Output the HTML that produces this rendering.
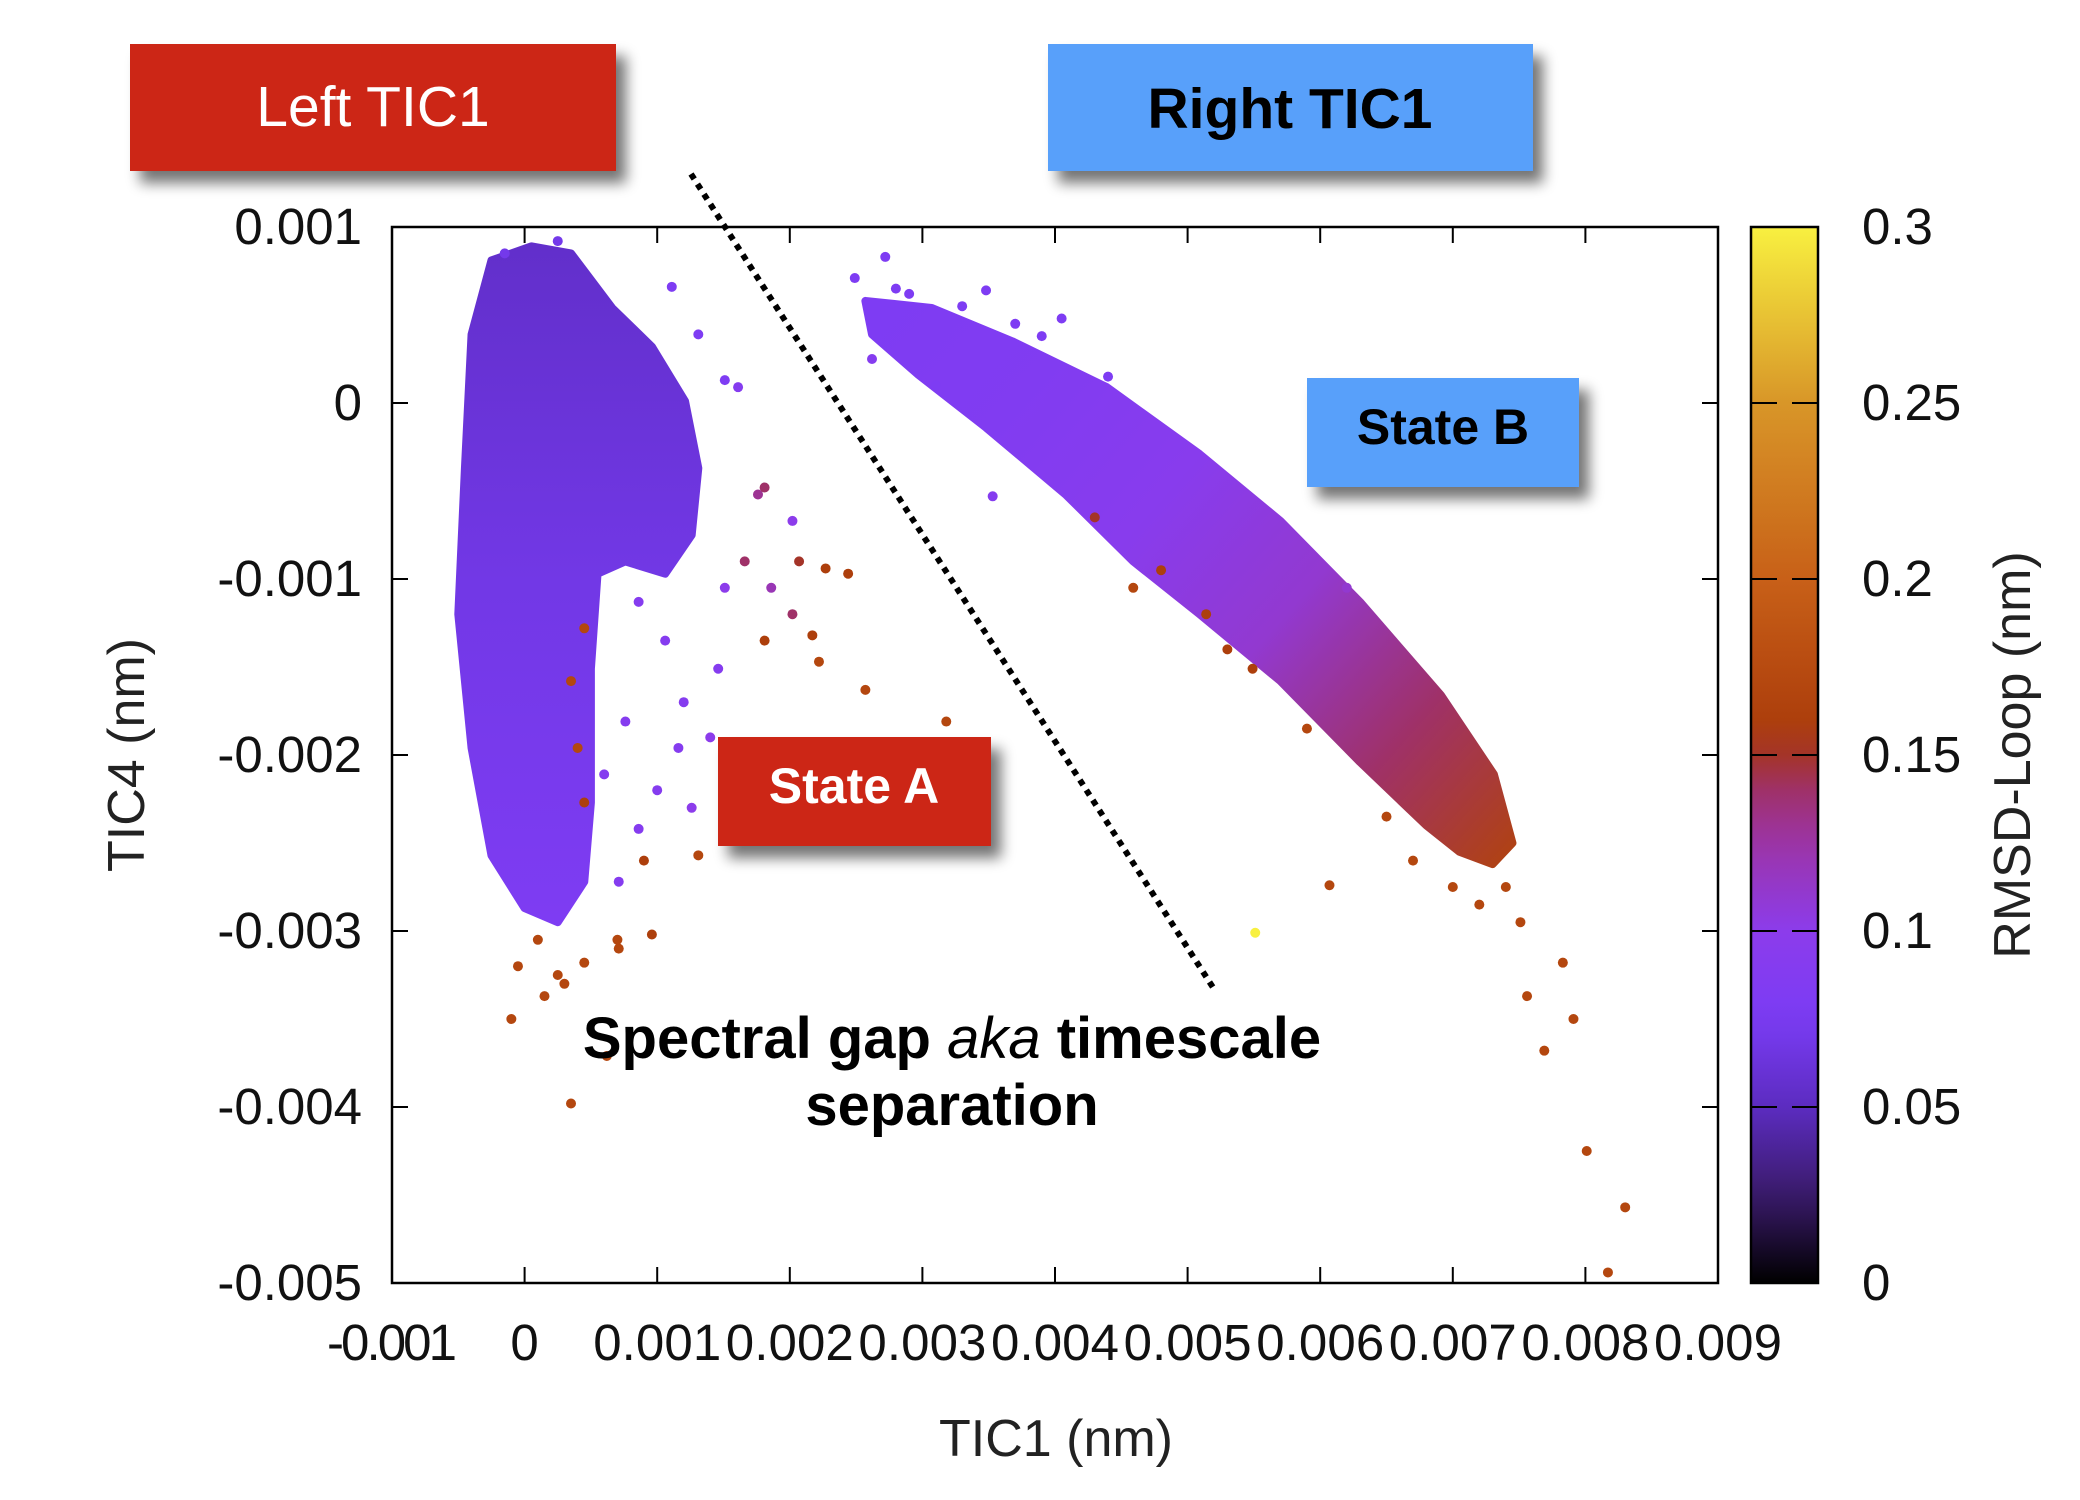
<!DOCTYPE html>
<html><head><meta charset="utf-8">
<style>
html,body{margin:0;padding:0;background:#fff;}
svg{display:block;font-family:"Liberation Sans",Arial,sans-serif;}
</style></head>
<body>
<svg id="chart" width="2080" height="1500" viewBox="0 0 2080 1500" xmlns="http://www.w3.org/2000/svg">
<defs>
  <filter id="shadow" x="-20%" y="-20%" width="150%" height="160%">
    <feGaussianBlur in="SourceAlpha" stdDeviation="7"/>
    <feOffset dx="10" dy="12" result="b"/>
    <feComponentTransfer><feFuncA type="linear" slope="0.55"/></feComponentTransfer>
    <feMerge><feMergeNode/><feMergeNode in="SourceGraphic"/></feMerge>
  </filter>
  <linearGradient id="cbgrad" x1="0" y1="1" x2="0" y2="0"></linearGradient>
  <linearGradient id="blobgrad" x1="0" y1="0" x2="0" y2="1"></linearGradient>
  <linearGradient id="bandgrad" gradientUnits="userSpaceOnUse"></linearGradient>
</defs>
<g id="marks"></g>
<g id="axes"></g>
<g id="overlay"></g>
</svg>
<script>
// ---- data (TIC units of 1e-3 nm) ----
const xTicks = [-1,0,1,2,3,4,5,6,7,8,9];
const xTickLabels = ["-0.001","0","0.001","0.002","0.003","0.004","0.005","0.006","0.007","0.008","0.009"];
const yTicks = [1,0,-1,-2,-3,-4,-5];
const yTickLabels = ["0.001","0","-0.001","-0.002","-0.003","-0.004","-0.005"];
const cTicks = [0,0.05,0.1,0.15,0.2,0.25,0.3];
const cTickLabels = ["0","0.05","0.1","0.15","0.2","0.25","0.3"];
// dense cluster outlines (state A blob, state B band)
const blobX = [-0.25,0.05,0.35,0.66,0.96,1.21,1.31,1.26,1.06,0.76,0.55,0.50,0.50,0.45,0.25,0.0,-0.25,-0.40,-0.50,-0.45,-0.40];
const blobY = [0.81,0.89,0.85,0.54,0.32,0.01,-0.37,-0.75,-0.97,-0.90,-0.97,-1.51,-2.27,-2.72,-2.95,-2.87,-2.57,-1.96,-1.20,-0.37,0.39];
const blobRmsd = [0.055,0.068,0.08];
const bandX = [2.57,3.07,3.68,4.39,5.09,5.70,6.30,6.91,7.31,7.45,7.30,7.05,6.80,6.30,5.70,5.09,4.59,4.08,3.48,2.97,2.62];
const bandY = [0.58,0.54,0.35,0.09,-0.29,-0.67,-1.13,-1.66,-2.11,-2.50,-2.62,-2.55,-2.40,-2.04,-1.58,-1.20,-0.90,-0.52,-0.14,0.16,0.39];
const bandRmsd = [0.08,0.085,0.095,0.11,0.14,0.165];
// sparse points
const ptX = [2.49,2.72,2.62,3.48,4.05,3.53,4.59,5.14,5.49,6.07,5.51,7.51,7.83,7.91,7.69,8.01,8.30,8.17,7.56,
 -0.10,0.35,0.62,0.15,0.25,0.45,0.71,0.96,1.31,1.26,1.81,2.17,2.44,2.57,3.18,2.02,1.76,1.61,1.51,1.31,1.11,2.02,1.51,1.46,1.16,0.86,0.71,0.60,0.76,1.06,0.86,1.66,2.07,2.27,2.22,1.81,1.86,-0.15,0.25,0.45,0.35,0.40,0.45,1.0,1.2,1.4,0.9,0.7,0.1,0.3,-0.05,
 2.8,3.1,3.3,3.9,4.3,4.8,5.3,5.9,6.5,7.0,7.2,7.4,6.7,6.2,4.4,3.7,2.9];
const ptY = [0.71,0.83,0.25,0.64,0.48,-0.53,-1.05,-1.20,-1.51,-2.74,-3.01,-2.95,-3.18,-3.50,-3.68,-4.25,-4.57,-4.94,-3.37,
 -3.50,-3.98,-3.71,-3.37,-3.25,-3.18,-3.10,-3.02,-2.57,-2.30,-1.35,-1.32,-0.97,-1.63,-1.81,-1.20,-0.52,0.09,0.13,0.39,0.66,-0.67,-1.05,-1.51,-1.96,-2.42,-2.72,-2.11,-1.81,-1.35,-1.13,-0.90,-0.90,-0.94,-1.47,-0.48,-1.05,0.85,0.92,-1.28,-1.58,-1.96,-2.27,-2.2,-1.7,-1.9,-2.6,-3.05,-3.05,-3.3,-3.2,
 0.65,0.1,0.55,0.38,-0.65,-0.95,-1.40,-1.85,-2.35,-2.75,-2.85,-2.75,-2.6,-1.05,0.15,0.45,0.62];
const ptRmsd = [0.08,0.08,0.09,0.08,0.08,0.09,0.17,0.16,0.16,0.17,0.3,0.17,0.17,0.17,0.17,0.17,0.17,0.17,0.17,
 0.17,0.17,0.17,0.17,0.17,0.17,0.17,0.16,0.17,0.1,0.16,0.16,0.16,0.17,0.17,0.14,0.13,0.09,0.08,0.08,0.08,0.1,0.1,0.09,0.09,0.09,0.09,0.09,0.09,0.09,0.09,0.14,0.15,0.16,0.17,0.14,0.12,0.07,0.07,0.17,0.17,0.17,0.16,0.09,0.09,0.1,0.16,0.17,0.17,0.17,0.17,
 0.08,0.08,0.08,0.08,0.15,0.16,0.16,0.17,0.17,0.17,0.17,0.17,0.17,0.11,0.08,0.08,0.08];

// ---- scales ----
const L=392,R=1718,T=227,B=1283;
function xS(v){return L+(v+1)*(R-L)/10;}
function yS(v){return T+(1-v)*(B-T)/6;}
const CB={x:1751,w:67,t:227,b:1283};
function cS(v){return CB.b-v/0.3*(CB.b-CB.t);}
const cmapV=[0,0.025,0.05,0.075,0.1,0.125,0.148,0.152,0.2,0.25,0.3];
const cmapC=[[0,0,0],[58,26,106],[92,44,192],[122,60,245],[140,60,235],[156,52,168],[160,48,70],[168,56,10],[200,96,24],[216,150,40],[248,240,64]];
function cmap(v){
  for(let i=0;i<cmapV.length-1;i++){
    if(v<=cmapV[i+1]){const f=(v-cmapV[i])/(cmapV[i+1]-cmapV[i]);
      const c=cmapC[i].map((a,k)=>Math.round(a+(cmapC[i+1][k]-a)*f));return `rgb(${c})`;}
  }
  return `rgb(${cmapC[cmapC.length-1]})`;
}
const NS="http://www.w3.org/2000/svg";
function mk(tag,attrs,parent){const e=document.createElementNS(NS,tag);for(const k in attrs)e.setAttribute(k,attrs[k]);parent.appendChild(e);return e;}

// gradients
const cbg=document.getElementById('cbgrad');
for(let i=0;i<=30;i++){mk('stop',{offset:i/30,'stop-color':cmap(i*0.01)},cbg);}
const bg=document.getElementById('blobgrad');
blobRmsd.forEach((v,i)=>mk('stop',{offset:i/(blobRmsd.length-1),'stop-color':cmap(v)},bg));
const bd=document.getElementById('bandgrad');
bd.setAttribute('x1',xS(2.6));bd.setAttribute('y1',yS(0.5));bd.setAttribute('x2',xS(7.4));bd.setAttribute('y2',yS(-2.7));
bandRmsd.forEach((v,i)=>mk('stop',{offset:i/(bandRmsd.length-1),'stop-color':cmap(v)},bd));

const marks=document.getElementById('marks');
const blob=mk('polygon',{points:blobX.map((x,i)=>xS(x)+','+yS(blobY[i])).join(' '),fill:'url(#blobgrad)',stroke:'url(#blobgrad)','stroke-width':8,'stroke-linejoin':'round'},marks);


const band=mk('polygon',{points:bandX.map((x,i)=>xS(x)+','+yS(bandY[i])).join(' '),fill:'url(#bandgrad)',stroke:'url(#bandgrad)','stroke-width':8,'stroke-linejoin':'round'},marks);


ptX.forEach((x,i)=>{
  const c=mk('circle',{cx:xS(x),cy:yS(ptY[i]),r:5,fill:cmap(ptRmsd[i])},marks);
  
  
});

// axes
const ax=document.getElementById('axes');
const frame=mk('rect',{x:L,y:T,width:R-L,height:B-T,fill:'none',stroke:'#000','stroke-width':2.5},ax);


xTicks.forEach((v,i)=>{
  const x=xS(v);
  mk('line',{x1:x,y1:B,x2:x,y2:B-16,stroke:'#000','stroke-width':2},ax);
  mk('line',{x1:x,y1:T,x2:x,y2:T+16,stroke:'#000','stroke-width':2},ax);
  const t=mk('text',{x:x,y:1360,'font-size':51,'text-anchor':'middle',fill:'#111',textLength:i==0?130:(i==1?30:128)},ax);
  t.textContent=xTickLabels[i];
  
  
});
yTicks.forEach((v,i)=>{
  const y=yS(v);
  mk('line',{x1:L,y1:y,x2:L+16,y2:y,stroke:'#000','stroke-width':2},ax);
  mk('line',{x1:R,y1:y,x2:R-16,y2:y,stroke:'#000','stroke-width':2},ax);
  const t=mk('text',{x:362,y:y+17,'font-size':51,'text-anchor':'end',fill:'#111'},ax);
  t.textContent=yTickLabels[i];
  
  
});
const cb=mk('rect',{x:CB.x,y:CB.t,width:CB.w,height:CB.b-CB.t,fill:'url(#cbgrad)',stroke:'#000','stroke-width':2.5},ax);


cTicks.forEach((v,i)=>{
  const y=cS(v);
  if(i>0&&i<cTicks.length-1){
    mk('line',{x1:CB.x,y1:y,x2:CB.x+26,y2:y,stroke:'#000','stroke-width':2},ax);
    mk('line',{x1:CB.x+CB.w,y1:y,x2:CB.x+CB.w-26,y2:y,stroke:'#000','stroke-width':2},ax);
  }
  const t=mk('text',{x:1862,y:y+17,'font-size':51,fill:'#111'},ax);
  t.textContent=cTickLabels[i];
  
  
});
</script>
<script>
// static overlay annotations
const ov=document.getElementById('overlay');
ov.innerHTML=`
<text x="1056" y="1456" font-size="52" text-anchor="middle" fill="#222">TIC1 (nm)</text>
<text x="0" y="0" font-size="52" text-anchor="middle" fill="#222" transform="translate(144,755) rotate(-90)">TIC4 (nm)</text>
<text x="0" y="0" font-size="52" text-anchor="middle" fill="#222" transform="translate(2030,755) rotate(-90)">RMSD-Loop (nm)</text>
<line x1="691" y1="174" x2="1214" y2="989" stroke="#000" stroke-width="6" stroke-dasharray="6,6"/>
<g filter="url(#shadow)"><rect x="130" y="44" width="486" height="127" fill="#cc2614"/></g>
<text x="373" y="126" font-size="57" text-anchor="middle" fill="#fff">Left TIC1</text>
<g filter="url(#shadow)"><rect x="1048" y="44" width="485" height="127" fill="#58a0fa"/></g>
<text x="1290" y="128" font-size="57" font-weight="bold" text-anchor="middle" fill="#000">Right TIC1</text>
<g filter="url(#shadow)"><rect x="1307" y="378" width="272" height="109" fill="#58a0fa"/></g>
<text x="1443" y="444" font-size="50" font-weight="bold" text-anchor="middle" fill="#000">State B</text>
<g filter="url(#shadow)"><rect x="718" y="737" width="273" height="109" fill="#cc2614"/></g>
<text x="854" y="803" font-size="50" font-weight="bold" text-anchor="middle" fill="#fff">State A</text>
<text font-size="58" font-weight="bold" text-anchor="middle" fill="#000"><tspan x="952" y="1058">Spectral gap <tspan font-style="italic" font-weight="normal">aka</tspan> timescale</tspan><tspan x="952" y="1125">separation</tspan></text>
`;
</script>
</body></html>
